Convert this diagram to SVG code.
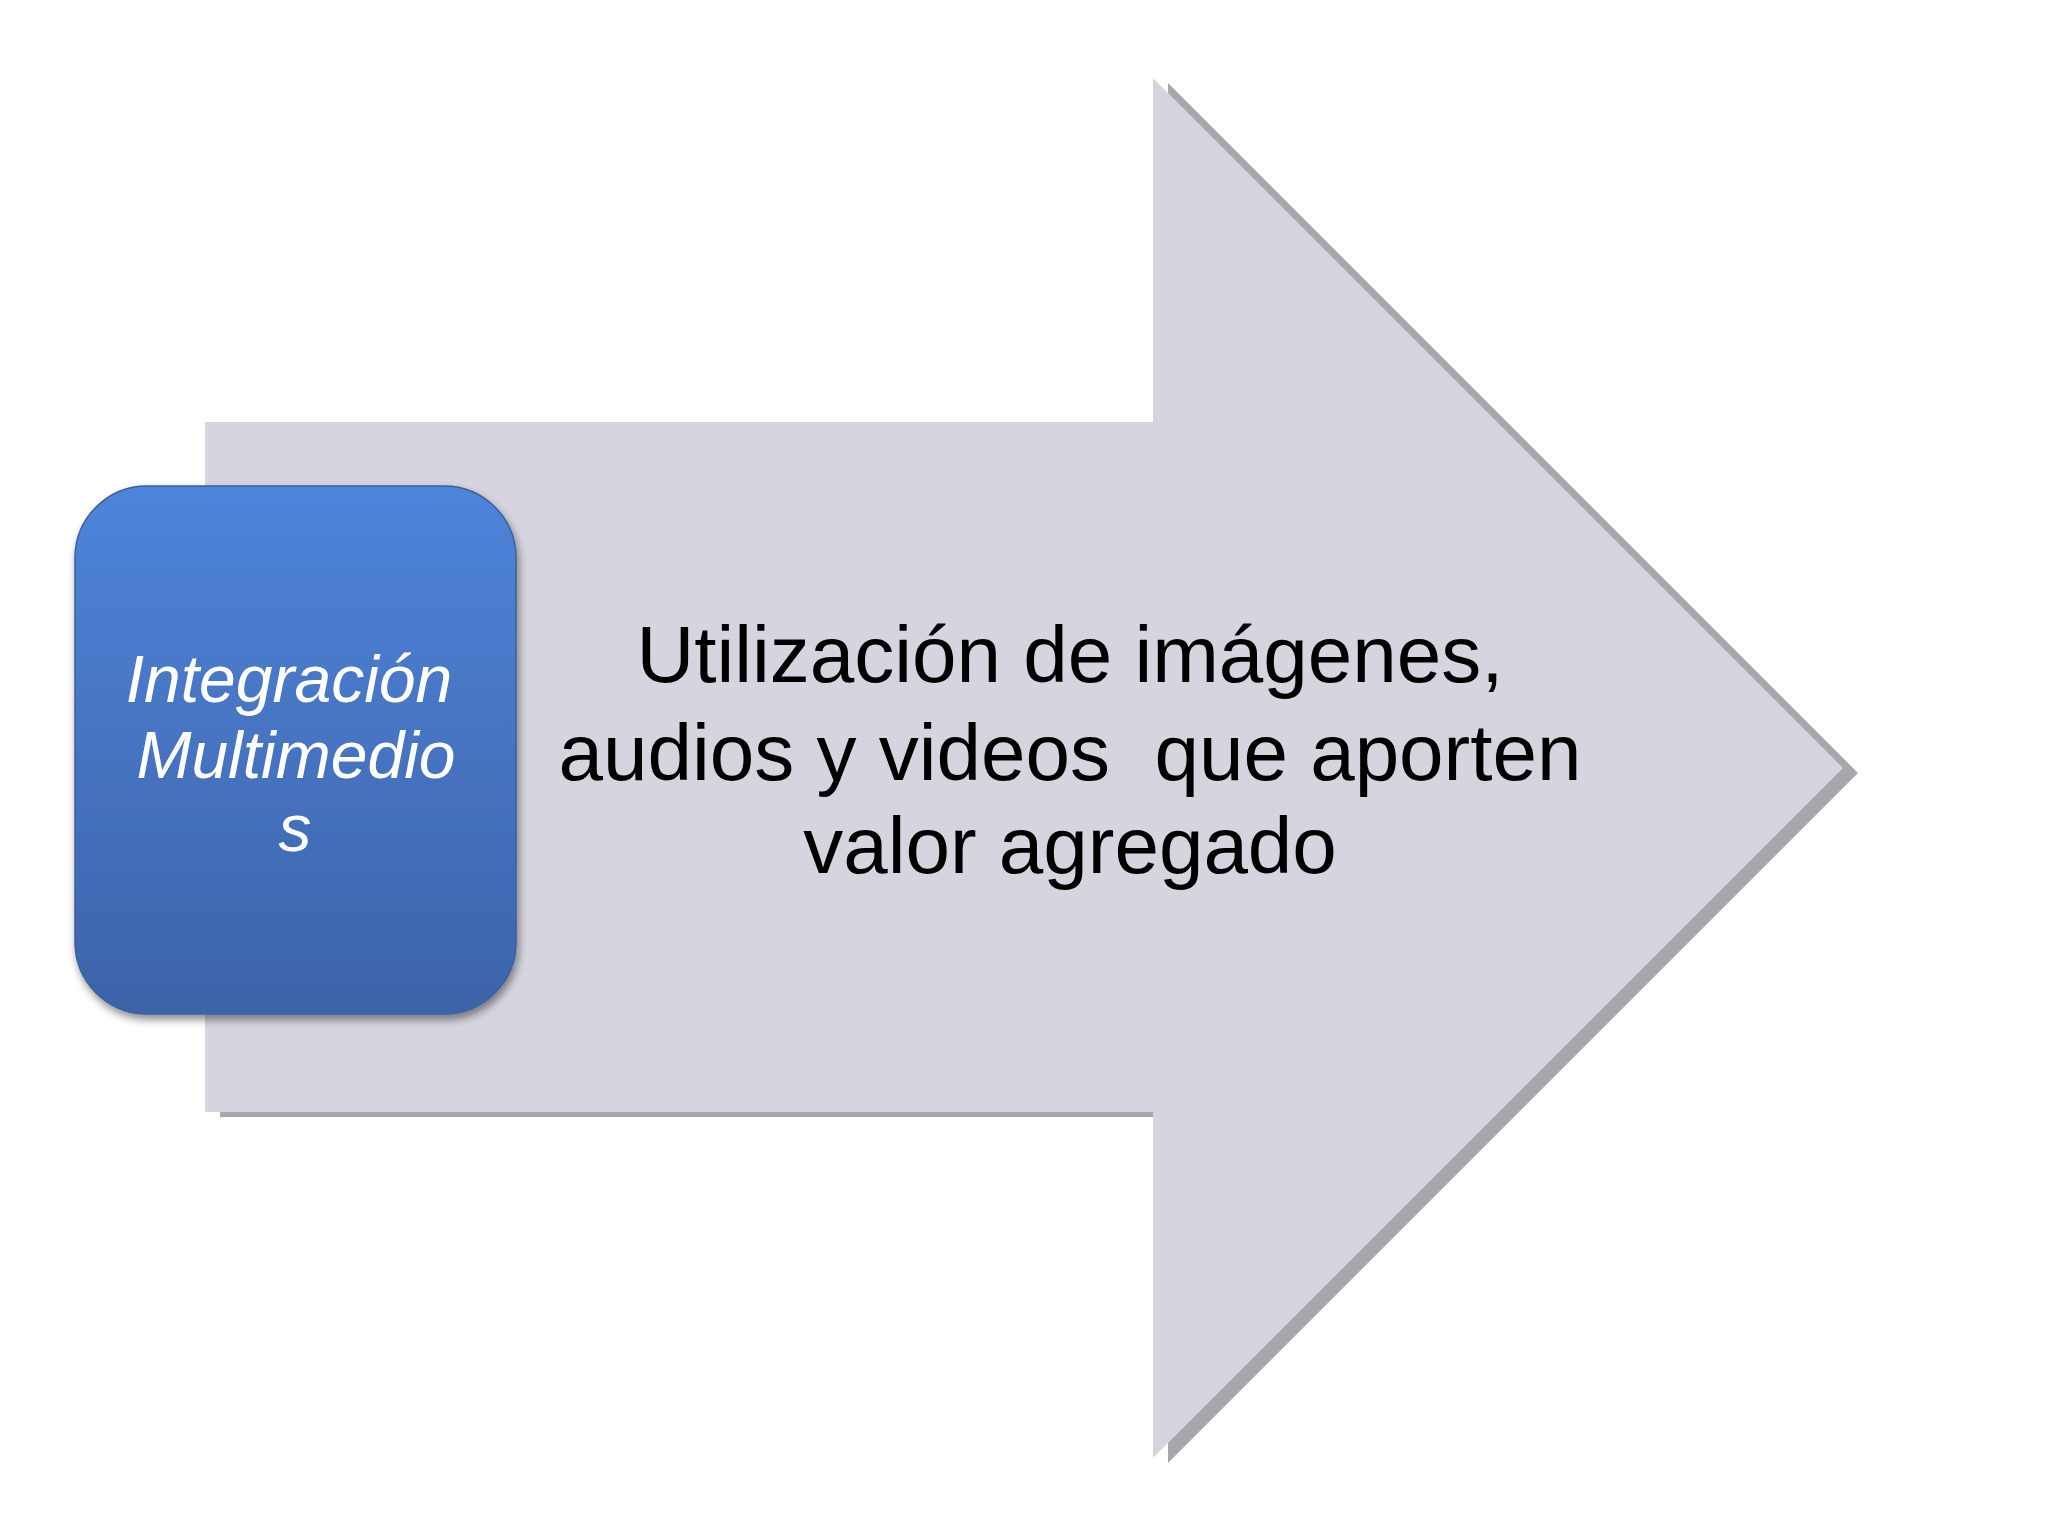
<svg xmlns="http://www.w3.org/2000/svg" width="2048" height="1536" viewBox="0 0 2048 1536">
  <style>
    .body { font-family: "Liberation Sans", Arial, sans-serif; font-size: 80px; fill: #000000; text-anchor: middle; white-space: pre; }
    .label { font-family: "Liberation Sans", Arial, sans-serif; font-style: italic; font-size: 66px; fill: #ffffff; text-anchor: middle; }
    .arrow-fill { fill: #d6d5df; }
    .arrow-shadow { fill: #a7a6ac; }
  </style>
  <defs>
    <linearGradient id="boxGrad" x1="0" y1="0" x2="0" y2="1">
      <stop offset="0" stop-color="#4e84da"/>
      <stop offset="1" stop-color="#3d63a8"/>
    </linearGradient>
    <filter id="boxShadow" x="-10%" y="-10%" width="125%" height="125%">
      <feGaussianBlur in="SourceAlpha" stdDeviation="4"/>
      <feOffset dx="2" dy="5" result="b"/>
      <feComponentTransfer><feFuncA type="linear" slope="0.45"/></feComponentTransfer>
      <feMerge><feMergeNode/><feMergeNode in="SourceGraphic"/></feMerge>
    </filter>
  </defs>
  <rect width="2048" height="1536" fill="#ffffff"/>
  <g id="arrow">
    <path class="arrow-shadow" transform="translate(15,5)" d="M205,422 H1153 V78 L1843,768 L1153,1458 V1112 H205 Z"/>
    <path class="arrow-fill" d="M205,422 H1153 V78 L1843,768 L1153,1458 V1112 H205 Z"/>
    <text class="body" x="1070" y="682">Utilización de imágenes,</text>
    <text class="body" x="1070" y="780">audios y videos  que aporten</text>
    <text class="body" x="1070" y="873">valor agregado</text>
  </g>
  <g id="box">
    <rect x="75" y="486" width="441" height="528" rx="72" ry="72" fill="url(#boxGrad)" stroke="#3a5f9e" stroke-width="1.5" filter="url(#boxShadow)"/>
    <text class="label" x="289" y="702">Integración</text>
    <text class="label" x="296" y="778">Multimedio</text>
    <text class="label" x="295" y="851">s</text>
  </g>
  <g id="connectors"/>
</svg>
